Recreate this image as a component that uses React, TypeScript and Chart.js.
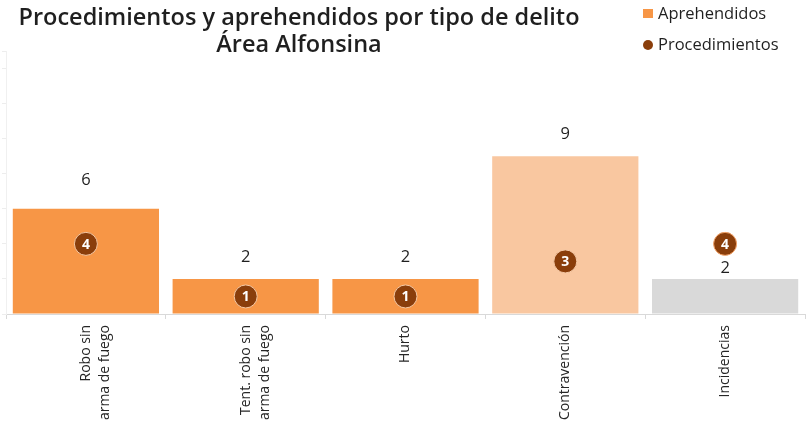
import React, { useEffect, useRef } from "react";
import { Chart, registerables } from "chart.js";

Chart.register(...registerables);

const categories: (string | string[])[] = [
  ["Robo sin", "arma de fuego"],
  ["Tent. robo sin", "arma de fuego"],
  "Hurto",
  "Contravención",
  "Incidencias",
];
const aprehendidos = [6, 2, 2, 9, 2];
const procedimientos = [4, 1, 1, 3, 4];
const titleLines = ["Procedimientos y aprehendidos por tipo de delito", "Área Alfonsina"];
const seriesNames = ["Aprehendidos", "Procedimientos"];

const barColors = ["#F79646", "#F79646", "#F79646", "#F9C7A0", "#D9D9D9"];
const pointColor = "#8A3E0B";
const pointBorders = ["#F5C9A6", "#F5C9A6", "#F5C9A6", "#F5C9A6", "#F3A46A"];
const valueLabelGap = [29, 22, 22, 22, 11];

const FONT = "'Open Sans', sans-serif";

const overlayPlugin = {
  id: "overlay",
  afterDatasetsDraw(chart: any) {
    const ctx = chart.ctx;
    const barMeta = chart.getDatasetMeta(0);
    const ptMeta = chart.getDatasetMeta(1);
    ctx.save();
    ctx.textAlign = "center";
    ctx.textBaseline = "middle";
    ctx.fillStyle = "#1F1F1F";
    ctx.font = `16.5px ${FONT}`;
    barMeta.data.forEach((bar: any, i: number) => {
      ctx.fillText(String(aprehendidos[i]), bar.x, bar.y - valueLabelGap[i]);
    });
    ctx.fillStyle = "#FFFFFF";
    ctx.font = `bold 14px ${FONT}`;
    ptMeta.data.forEach((pt: any, i: number) => {
      ctx.fillText(String(procedimientos[i]), pt.x, pt.y + 1);
    });
    ctx.restore();
  },
  afterDraw(chart: any) {
    const ctx = chart.ctx;
    ctx.save();
    ctx.fillStyle = "#1F1F1F";
    ctx.textAlign = "center";
    ctx.textBaseline = "middle";
    ctx.font = `600 23.5px ${FONT}`;
    ctx.fillText(titleLines[0], 299, 18);
    ctx.fillText(titleLines[1], 299, 45);
    ctx.textAlign = "left";
    ctx.font = `16.5px ${FONT}`;
    ctx.fillStyle = barColors[0];
    ctx.fillRect(643, 9, 10, 9);
    ctx.fillStyle = "#1F1F1F";
    ctx.fillText(seriesNames[0], 658, 14);
    ctx.fillStyle = pointColor;
    ctx.beginPath();
    ctx.arc(648, 45, 5, 0, Math.PI * 2);
    ctx.fill();
    ctx.fillStyle = "#1F1F1F";
    ctx.fillText(seriesNames[1], 658, 45);
    ctx.restore();
  },
};

export default function App() {
  const ref = useRef<HTMLCanvasElement>(null);
  useEffect(() => {
    document.body.style.margin = "0";
    const chart = new Chart(ref.current!, {
      type: "bar",
      data: {
        labels: categories,
        datasets: [
          {
            type: "bar",
            label: seriesNames[0],
            data: aprehendidos,
            backgroundColor: barColors,
            barPercentage: 0.915,
            categoryPercentage: 1,
            order: 2,
          },
          {
            type: "line",
            label: seriesNames[1],
            data: procedimientos,
            showLine: false,
            pointRadius: 11.5,
            pointBackgroundColor: pointColor,
            pointBorderColor: pointBorders,
            pointBorderWidth: 1,
            order: 1,
          } as any,
        ],
      },
      options: {
        responsive: false,
        animation: false,
        layout: { autoPadding: false, padding: { top: 51, left: 0, right: 1, bottom: 0 } },
        plugins: {
          legend: { display: false },
          title: { display: false },
          tooltip: { enabled: false },
        },
        scales: {
          x: {
            grid: {
              display: true,
              drawOnChartArea: false,
              drawTicks: true,
              tickLength: 5,
              color: "#D9D9D9",
              offset: true,
            },
            border: { color: "#D9D9D9", width: 1 },
            ticks: {
              maxRotation: 90,
              minRotation: 90,
              padding: 6,
              color: "#262626",
              font: { family: FONT, size: 14, lineHeight: 1.35 },
            },
            afterFit: (scale: any) => {
              scale.height = 118;
              scale.paddingLeft = 0;
              scale.paddingRight = 0;
            },
          },
          y: {
            min: 0,
            max: 15,
            ticks: { display: false, stepSize: 2 },
            grid: {
              display: true,
              drawOnChartArea: false,
              drawTicks: true,
              tickLength: 4,
              color: "#EDEDED",
            },
            border: { color: "#F0F0F0", width: 1 },
            afterFit: (scale: any) => {
              scale.width = 6;
            },
          },
        },
      },
      plugins: [overlayPlugin],
    });
    return () => chart.destroy();
  }, []);
  return (
    <div style={{ position: "relative", width: 806, height: 432, background: "#fff" }}>
      <canvas ref={ref} width={806} height={432} />
    </div>
  );
}
